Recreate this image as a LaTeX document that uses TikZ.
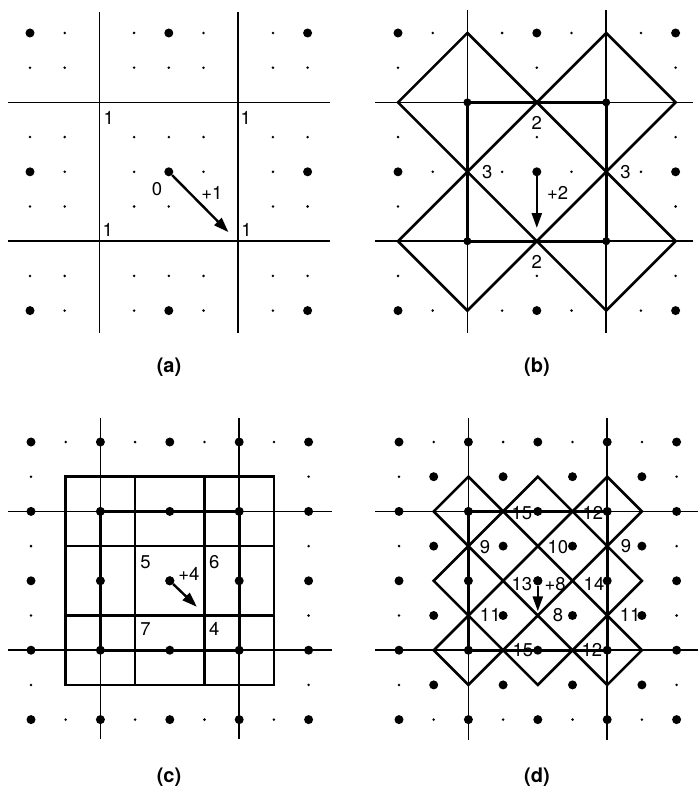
\documentclass[tikz,border=0pt]{standalone}
\usepackage{fontspec}
\setmainfont{TeX Gyre Heros}
\usetikzlibrary{arrows.meta}
\begin{document}
\begin{tikzpicture}[x=1pt,y=-1pt,
  latline/.style={line width=1.6pt},
  boldline/.style={line width=2.6pt, line join=miter},
  lab/.style={font=\fontsize{18.5}{18.5}\selectfont, inner sep=0pt},
  captext/.style={font=\fontsize{20}{20}\selectfont\bfseries, inner sep=0pt},
  arr/.style={line width=2.4pt, -{Triangle[length=15pt,width=10pt]}},
  cdot/.style={circle, fill, inner sep=0pt, minimum size=9pt},
  sdot/.style={radius=1.4pt},
  bdot/.style={radius=4.5pt}
]
\useasboundingbox (0,0) rectangle (699,786);

% ---------------- panel (a) ----------------
\begin{scope}[shift={(30,33)}, x=34.7pt, y=-34.7pt]
  \foreach \k in {2,6} {
    \draw[latline] (-0.63,\k) -- (8.65,\k);
    \draw[latline] (\k,-0.6) -- (\k,8.65);
  }
  \foreach \j in {0,1,3,4,5,7,8} {
    \foreach \i in {1,3,5,7} { \fill[sdot] (\i,\j) circle; }
  }
  \foreach \j in {1,3,5,7} {
    \foreach \i in {0,4,8} { \fill[sdot] (\i,\j) circle; }
  }
  \foreach \i/\j in {0/0,4/0,8/0,0/4,8/4,0/8,4/8,8/8} { \fill[bdot] (\i,\j) circle; }
  \node[cdot] (a0) at (4,4) {};
  \coordinate (aT) at (5.72,5.74);
  \draw[arr] (a0) -- (aT);
  \node[lab] (a1) at (2.27,2.45) {1};
  \node[lab] (a2) at (6.22,2.45) {1};
  \node[lab] (a3) at (2.24,5.68) {1};
  \node[lab] (a4) at (6.24,5.68) {1};
  \node[lab] (a5) at (3.66,4.5) {0};
  \node[lab] (a6) at (5.24,4.6) {+1};
\end{scope}

% ---------------- panel (b) ----------------
\begin{scope}[shift={(398,33)}, x=34.7pt, y=-34.7pt]
  \foreach \k in {2,6} {
    \draw[latline] (-0.66,\k) -- (8.5,\k);
    \draw[latline] (\k,-0.66) -- (\k,8.65);
  }
  \draw[boldline] (2,2) rectangle (6,6);
  \foreach \cx/\cy in {2/2,6/2,2/6,6/6} {
    \draw[boldline] ({\cx-2},\cy) -- (\cx,{\cy-2}) -- ({\cx+2},\cy) -- (\cx,{\cy+2}) -- cycle;
  }
  \foreach \j in {0,4,8} {
    \foreach \i in {1,3,5,7} { \fill[sdot] (\i,\j) circle; }
  }
  \foreach \j in {1,3,5,7} {
    \foreach \i in {0,8} { \fill[sdot] (\i,\j) circle; }
  }
  \foreach \j in {1,3,7} { \fill[sdot] (4,\j) circle; }
  \foreach \i/\j in {0/0,4/0,8/0,0/4,8/4,0/8,4/8,8/8} { \fill[bdot] (\i,\j) circle; }
  \foreach \i/\j in {2/2,6/2,2/6,6/6} { \fill (\i,\j) circle[radius=4pt]; }
  \node[cdot] (b0) at (4,4) {};
  \coordinate (bT) at (4,5.62);
  \draw[arr] (b0) -- (bT);
  \node[lab] (b1) at (4,2.6) {2};
  \node[lab] (b2) at (4,6.6) {2};
  \node[lab] (b3) at (2.57,4.02) {3};
  \node[lab] (b4) at (6.56,4.02) {3};
  \node[lab] (b5) at (4.6,4.6) {+2};
\end{scope}

% ---------------- panel (c) ----------------
\begin{scope}[shift={(31,442)}, x=34.7pt, y=-34.7pt]
  \foreach \k in {2,6} {
    \draw[latline] (-0.66,\k) -- (8.67,\k);
    \draw[latline] (\k,-0.69) -- (\k,8.56);
  }
  \draw[boldline] (1,1) rectangle (7,7);
  \draw[boldline] (2,2) rectangle (6,6);
  \draw[boldline] (3,1) -- (3,7) (5,1) -- (5,7) (1,3) -- (7,3) (1,5) -- (7,5);
  \foreach \k in {1,3,5,7} {
    \fill[sdot] (\k,0) circle;
    \fill[sdot] (\k,8) circle;
    \fill[sdot] (0,\k) circle;
    \fill[sdot] (8,\k) circle;
  }
  \foreach \j in {0,2,4,6,8} {
    \foreach \i in {0,2,4,6,8} { \fill[bdot] (\i,\j) circle; }
  }
  \node[cdot] (c0) at (4,4) {};
  \coordinate (cT) at (4.78,4.75);
  \draw[arr] (c0) -- (cT);
  \node[lab] (c5) at (3.3,3.46) {5};
  \node[lab] (c6) at (5.28,3.46) {6};
  \node[lab] (c7) at (3.3,5.39) {7};
  \node[lab] (c4) at (5.28,5.39) {4};
  \node[lab] (cp) at (4.55,3.8) {+4};
\end{scope}

% ---------------- panel (d) ----------------
\begin{scope}[shift={(399,442)}, x=34.7pt, y=-34.7pt]
  \foreach \k in {2,6} {
    \draw[latline] (-0.69,\k) -- (8.62,\k);
    \draw[latline] (\k,-0.69) -- (\k,8.59);
  }
  \draw[boldline] (2,2) rectangle (6,6);
  \foreach \cx in {2,4,6} {
    \foreach \cy in {2,4,6} {
      \draw[boldline] ({\cx-1},\cy) -- (\cx,{\cy-1}) -- ({\cx+1},\cy) -- (\cx,{\cy+1}) -- cycle;
    }
  }
  \foreach \k in {1,3,5,7} {
    \fill[sdot] (\k,0) circle;
    \fill[sdot] (\k,8) circle;
    \fill[sdot] (0,\k) circle;
    \fill[sdot] (8,\k) circle;
  }
  \foreach \i in {0,...,8} {
    \foreach \j in {0,...,8} {
      \pgfmathtruncatemacro\s{\i+\j}
      \ifodd\s\relax\else \fill[bdot] (\i,\j) circle; \fi
    }
  }
  \node[cdot] (d0) at (4,4) {};
  \coordinate (dT) at (4,4.88);
  \draw[arr] (d0) -- (dT);
  \node[lab] (d1) at (3.54,2.05) {15};
  \node[lab] (d2) at (5.59,2.05) {12};
  \node[lab] (d3) at (2.48,3.03) {9};
  \node[lab] (d4) at (4.58,3.03) {10};
  \node[lab] (d5) at (6.54,3.0) {9};
  \node[lab] (d6) at (3.54,4.09) {13};
  \node[lab] (d7) at (4.5,4.09) {+8};
  \node[lab] (d8) at (5.62,4.09) {14};
  \node[lab] (d9) at (2.63,4.99) {11};
  \node[lab] (d10) at (4.58,4.99) {8};
  \node[lab] (d11) at (6.66,4.99) {11};
  \node[lab] (d12) at (3.57,5.99) {15};
  \node[lab] (d13) at (5.56,5.99) {12};
\end{scope}

% ---------------- captions ----------------
\node[captext] (capa) at (169,367) {(a)};
\node[captext] (capb) at (537,367) {(b)};
\node[captext] (capc) at (169,777) {(c)};
\node[captext] (capd) at (537,777) {(d)};
\end{tikzpicture}
\end{document}
